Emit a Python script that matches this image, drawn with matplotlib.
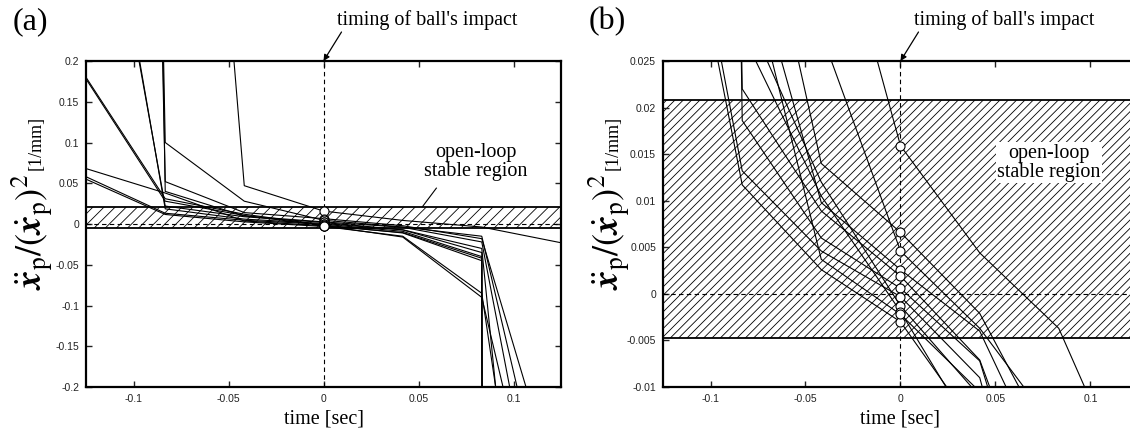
import numpy as np
import matplotlib
matplotlib.use('Agg')
import matplotlib.pyplot as plt
from matplotlib import ticker

# sample times (camera frames, 1/24 s apart)
t = [-0.125, -0.0833, -0.0417, 0.0, 0.0417, 0.0833, 0.125]

# one row per trial: xpp / xp^2 at each frame [1/mm]
trials = [
    [3.0, 1.22, 0.047, 0.0159, 0.0044, -0.0037, -0.023],
    [4.5, 0.052, 0.014, 0.0066, -0.0021, -0.018, -0.344],
    [5.0, 0.1, 0.028, 0.0046, -0.0037, -0.015, -0.43],
    [6.0, 0.04, 0.0098, 0.0026, -0.004, -0.022, -0.527],
    [0.56, 0.022, 0.0089, 0.0019, -0.0071, -0.03, -1.0],
    [0.58, 0.0186, 0.006, 0.0006, -0.0072, -0.035, -50.0],
    [0.058, 0.0132, 0.0046, -0.0003, -0.009, -0.04, -60.0],
    [0.055, 0.0117, 0.0026, -0.003, -0.015, -0.085, -0.742],
    [0.18, 0.031, 0.012, -0.0013, -0.011, -0.045, -40.0],
    [0.178, 0.028, 0.0105, -0.0019, -0.016, -0.09, -0.5],
    [0.068, 0.038, 0.0037, -0.0022, -0.0105, -0.042, -45.0],
]

# open-loop stable band
stable_lo = -0.0047
stable_hi = 0.0208

panels = ['(a)', '(b)']
ylims = [(-0.2, 0.2), (-0.01, 0.025)]
yticks = [np.arange(-0.2, 0.2001, 0.05), np.arange(-0.01, 0.02501, 0.005)]
xticks = [-0.1, -0.05, 0, 0.05, 0.1]
hatches = ['///', '////']


def fmt(v, pos):
    v = round(v, 4)
    if abs(v) < 1e-9:
        return '0'
    return '%g' % v


plt.rcParams['mathtext.fontset'] = 'stix'
plt.rcParams['hatch.linewidth'] = 0.6
plt.rcParams['hatch.color'] = 'k'
serif = 'Liberation Serif'
sans = 'Liberation Sans'

W, H = 1130, 434
fig = plt.figure(figsize=(W / 100, H / 100), dpi=100)

lefts = [86, 663]
for i in range(2):
    ax = fig.add_axes([lefts[i] / W, 1 - 387 / H, 475 / W, 326 / H])
    lo, hi = ylims[i]

    ax.axhspan(stable_lo, stable_hi, facecolor='none', edgecolor='k', hatch=hatches[i],
               linewidth=0, zorder=1)
    ax.axhline(stable_lo, color='k', lw=1.3, zorder=3)
    ax.axhline(stable_hi, color='k', lw=1.3, zorder=3)
    ax.axhline(0, color='k', lw=0.8, ls=(0, (4, 3)), zorder=2)
    ax.axvline(0, color='k', lw=0.8, ls=(0, (4, 3)), zorder=2)

    for tr in trials:
        ax.plot(t, tr, color='k', lw=0.8, zorder=4)
        ax.plot(0, tr[3], 'o', ms=6.5, mfc='white', mec='k', mew=0.8, zorder=5)

    ax.set_xlim(-0.125, 0.125)
    ax.set_ylim(lo, hi)
    ax.set_xticks(xticks)
    ax.set_yticks(yticks[i])
    ax.xaxis.set_major_formatter(ticker.FuncFormatter(fmt))
    ax.yaxis.set_major_formatter(ticker.FuncFormatter(fmt))
    ax.tick_params(direction='in', top=True, right=True, length=4, width=1,
                   labelsize=7.5, colors='#222222', pad=5)
    for lab in ax.get_xticklabels() + ax.get_yticklabels():
        lab.set_fontfamily(sans)
    for s in ax.spines.values():
        s.set_linewidth(1.6)

    ax.set_xlabel('time [sec]', fontsize=14.5, family=serif, labelpad=4)

    # impact marker
    ax.annotate("timing of ball's impact", xy=(0, hi), xycoords='data',
                xytext=(427 - 323.7, H - 20), textcoords=('offset pixels', 'figure pixels'),
                ha='center', va='center', fontsize=14.5, family=serif,
                annotation_clip=False)
    ax.annotate('', xy=(0, hi), xytext=(18, 29), textcoords='offset pixels',
                arrowprops=dict(arrowstyle='-|>', color='k', lw=0.9,
                                mutation_scale=9, shrinkA=0, shrinkB=0),
                annotation_clip=False)

    fig.text((lefts[i] - 56) / W, 1 - 22 / H, panels[i], fontsize=23, family=serif,
             ha='center', va='center')

    # y label
    fig.text((lefts[i] - 54) / W, 0.465,
             r'$\ddot{\mathbfit{x}}_{\mathrm{p}}/(\dot{\mathbfit{x}}_{\mathrm{p}})^{2}$',
             rotation=90, fontsize=26, ha='center', va='center')
    fig.text((lefts[i] - 50) / W, 0.67, '[1/mm]', rotation=90, fontsize=13,
             family=serif, ha='center', va='center')

    if i == 0:
        ax.text(0.0803, 0.076, 'open-loop\nstable region', ha='center', va='center',
                fontsize=14.5, family=serif, linespacing=1.0)
        ax.plot([0.0594, 0.052], [0.044, 0.021], color='k', lw=0.8)
    else:
        ax.text(0.078, 0.0141, 'open-loop\nstable region', ha='center', va='center',
                fontsize=14.5, family=serif, linespacing=1.0, zorder=6,
                bbox=dict(facecolor='white', edgecolor='none', pad=1))

fig.savefig('out.png', dpi=100)
